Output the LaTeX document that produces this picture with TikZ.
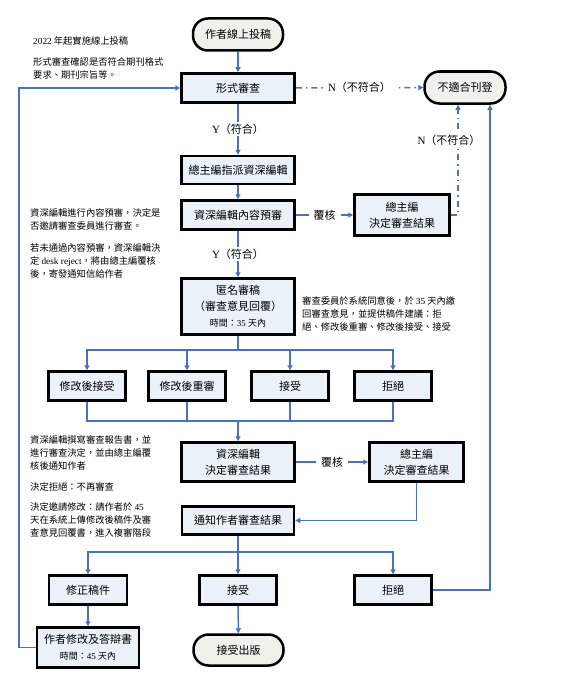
\documentclass[tikz,border=0pt]{standalone}
\usepackage{fontspec}
\setmainfont{Noto Sans CJK TC}
\newfontfamily\lat{Liberation Serif}
\usetikzlibrary{arrows.meta}
\definecolor{boxfill}{RGB}{235,241,248}
\definecolor{termfill}{RGB}{241,241,235}
\definecolor{flowblue}{RGB}{70,114,190}
\begin{document}
\begin{tikzpicture}[x=1pt, y=-1pt, >={Triangle[length=5pt,width=5pt]},
    box/.style={draw=black, line width=2.5pt, fill=boxfill, inner sep=0pt, align=center, font=\fontsize{11}{16}\selectfont},
    term/.style={box, fill=termfill, rounded corners=15pt},
    flow/.style={flowblue, line width=1.5pt},
    rejline/.style={flow, dash pattern=on 6pt off 4pt on 1.5pt off 4pt},
    lbl/.style={fill=white, text=black, font=\fontsize{11}{13}\selectfont, inner ysep=2pt, inner xsep=5pt},
    note/.style={anchor=west, align=left, inner sep=0pt, font=\fontsize{9.3}{13}\selectfont}]
    \useasboundingbox (0,0) rectangle (572,677);
    \node[term, minimum width=90pt, minimum height=32pt] (submit) at (238,34.5) {作者線上投稿};
    \node[box, minimum width=113pt, minimum height=29pt] (form) at (238,88) {形式審查};
    \node[term, minimum width=81pt, minimum height=32pt] (unfit) at (465,87.5) {不適合刊登};
    \node[box, minimum width=113pt, minimum height=28pt] (assign) at (238,170) {總主編指派資深編輯};
    \node[box, minimum width=113pt, minimum height=29pt] (prereview) at (238,215) {資深編輯內容預審};
    \node[box, minimum width=95pt, minimum height=41pt] (chiefA) at (402,215) {總主編\\決定審查結果};
    \node[box, minimum width=113pt, minimum height=56pt] (anon) at (238,306.5)
        {匿名審稿\\（審查意見回覆）\\{\fontsize{9}{11}\selectfont 時間：{\lat 35} 天內}};
    \node[box, minimum width=77pt, minimum height=29pt] (revacc) at (87,386) {修改後接受};
    \node[box, minimum width=77pt, minimum height=29pt] (revrev) at (187,386) {修改後重審};
    \node[box, minimum width=77pt, minimum height=29pt] (accA) at (290,386) {接受};
    \node[box, minimum width=77pt, minimum height=29pt] (rejA) at (393,386) {拒絕};
    \node[box, minimum width=113pt, minimum height=39pt] (seniordec) at (238,462) {資深編輯\\決定審查結果};
    \node[box, minimum width=94pt, minimum height=39pt] (chiefB) at (416.5,462) {總主編\\決定審查結果};
    \node[box, minimum width=112pt, minimum height=28pt] (notify) at (238,520.5) {通知作者審查結果};
    \node[box, minimum width=78pt, minimum height=29pt] (fix) at (88,590) {修正稿件};
    \node[box, minimum width=77pt, minimum height=29pt] (accB) at (238,590) {接受};
    \node[box, minimum width=77pt, minimum height=29pt] (rejB) at (393,590) {拒絕};
    \node[box, minimum width=102pt, minimum height=40pt] (authrev) at (88,647.5)
        {作者修改及答辯書\\{\fontsize{9}{11}\selectfont 時間：{\lat 45} 天內}};
    \node[term, minimum width=90pt, minimum height=31pt] (publish) at (238.5,650) {接受出版};

    \node[note] (noteA) at (33,41) {{\lat 2022} 年起實施線上投稿};
    \node[note] (noteB) at (33,68.5) {形式審查確認是否符合期刊格式\\要求、期刊宗旨等。};
    \node[note] (noteC) at (30,219.5) {資深編輯進行內容預審，決定是\\否邀請審查委員進行審查。};
    \node[note] (noteD) at (30,260.5) {若未通過內容預審，資深編輯決\\定 {\lat desk reject}，將由總主編覆核\\後，寄發通知信給作者};
    \node[note] (noteE) at (302,314) {審查委員於系統同意後，於 {\lat 35} 天內繳\\回審查意見，並提供稿件建議：拒\\絕、修改後重審、修改後接受、接受};
    \node[note] (noteF) at (30,453) {資深編輯撰寫審查報告書，並\\進行審查決定，並由總主編覆\\核後通知作者};
    \node[note] (noteG) at (30,487) {決定拒絕：不再審查};
    \node[note] (noteH) at (30,520) {決定邀請修改：請作者於 {\lat 45}\\天在系統上傳修改後稿件及審\\查意見回覆書，進入複審階段};

    \draw[flow, ->] (submit) -- (form);
    \draw[rejline, ->] (form) -- node[lbl] {{\lat N}（不符合）} (unfit);
    \draw[flow, ->] (form) -- node[lbl] {{\lat Y}（符合）} (assign);
    \draw[flow, ->] (assign) -- (prereview);
    \draw[flow, ->] (prereview) -- node[lbl] {覆核} (chiefA);
    \draw[rejline, ->] (chiefA.east) -| ([xshift=-7pt]unfit.south) node[lbl, pos=0.84, xshift=-9pt] {{\lat N}（不符合）};
    \draw[flow, ->] (prereview) -- node[lbl] {{\lat Y}（符合）} (anon);
    \coordinate (split1) at (238,350);
    \draw[flow] (anon) -- (split1);
    \foreach \b in {revacc, revrev, accA, rejA} \draw[flow, ->] (split1) -| (\b);
    \coordinate (merge1) at (238,421);
    \foreach \b in {revacc, revrev, accA, rejA} \draw[flow] (\b) |- (merge1);
    \draw[flow, ->] (merge1) -- (seniordec);
    \draw[flow, ->] (seniordec) -- node[lbl] {覆核} (chiefB);
    \draw[flow, ->] (chiefB.south) |- (notify.east);
    \coordinate (split2) at (238,552);
    \draw[flow] (notify) -- (split2);
    \foreach \b in {fix, accB, rejB} \draw[flow, ->] (split2) -| (\b);
    \draw[flow, ->] (fix) -- (authrev);
    \draw[flow, ->] (accB) -- (publish);
    \draw[flow, ->] (rejB.east) -| ([xshift=25pt]unfit.south);
    \draw[flow, ->] (authrev.west) -- ++(-17,0) |- (form.west);
\end{tikzpicture}
\end{document}
